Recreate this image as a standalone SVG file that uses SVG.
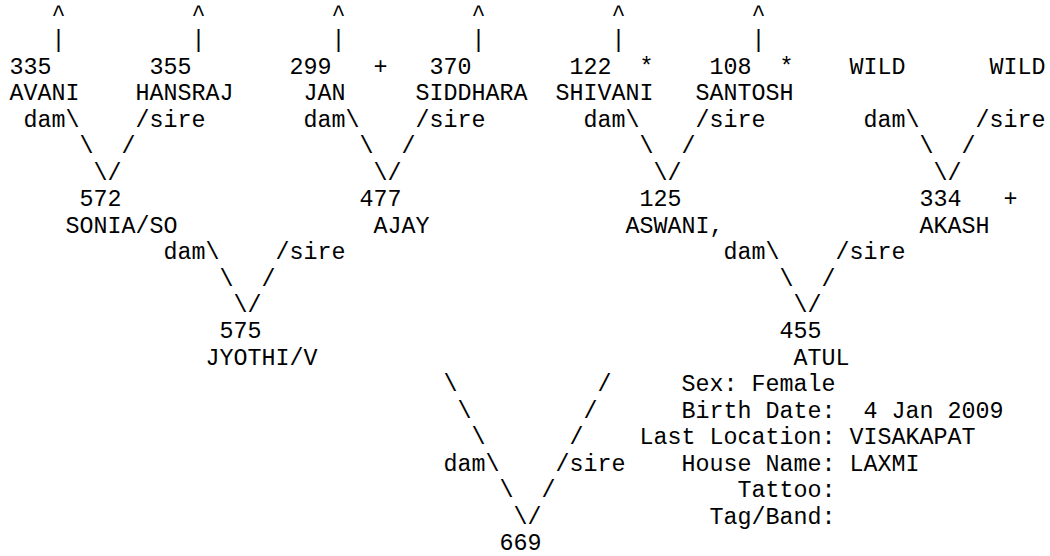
<svg xmlns="http://www.w3.org/2000/svg" width="1050" height="556" viewBox="0 0 1050 556">
<style>
text { font-family: "Liberation Mono", "Courier New", monospace; font-size: 23.333px; fill: #000; white-space: pre; }
</style>
<rect width="1050" height="556" fill="#fff"/>
<g id="connectors">
  <text x="51.5" y="21">^</text><text x="191.5" y="21">^</text><text x="331.5" y="21">^</text><text x="471.5" y="21">^</text><text x="611.5" y="21">^</text><text x="751.5" y="21">^</text>
  <text x="51.5" y="47.45">|</text><text x="191.5" y="47.45">|</text><text x="331.5" y="47.45">|</text><text x="471.5" y="47.45">|</text><text x="611.5" y="47.45">|</text><text x="751.5" y="47.45">|</text>
  <!-- first level -->
  <text x="23.5" y="126.8">dam\</text><text x="135.5" y="126.8">/sire</text>
  <text x="79.5" y="153.25">\</text><text x="121.5" y="153.25">/</text>
  <text x="93.5" y="179.7">\/</text>
  <text x="303.5" y="126.8">dam\</text><text x="415.5" y="126.8">/sire</text>
  <text x="359.5" y="153.25">\</text><text x="401.5" y="153.25">/</text>
  <text x="373.5" y="179.7">\/</text>
  <text x="583.5" y="126.8">dam\</text><text x="695.5" y="126.8">/sire</text>
  <text x="639.5" y="153.25">\</text><text x="681.5" y="153.25">/</text>
  <text x="653.5" y="179.7">\/</text>
  <text x="863.5" y="126.8">dam\</text><text x="975.5" y="126.8">/sire</text>
  <text x="919.5" y="153.25">\</text><text x="961.5" y="153.25">/</text>
  <text x="933.5" y="179.7">\/</text>
  <!-- second level -->
  <text x="163.5" y="259.05">dam\</text><text x="275.5" y="259.05">/sire</text>
  <text x="219.5" y="285.5">\</text><text x="261.5" y="285.5">/</text>
  <text x="233.5" y="311.95">\/</text>
  <text x="723.5" y="259.05">dam\</text><text x="835.5" y="259.05">/sire</text>
  <text x="779.5" y="285.5">\</text><text x="821.5" y="285.5">/</text>
  <text x="793.5" y="311.95">\/</text>
  <!-- bottom -->
  <text x="443.5" y="391.3">\</text><text x="597.5" y="391.3">/</text>
  <text x="457.5" y="417.75">\</text><text x="583.5" y="417.75">/</text>
  <text x="471.5" y="444.2">\</text><text x="569.5" y="444.2">/</text>
  <text x="443.5" y="470.65">dam\</text><text x="555.5" y="470.65">/sire</text>
  <text x="499.5" y="497.1">\</text><text x="541.5" y="497.1">/</text>
  <text x="513.5" y="523.55">\/</text>
</g>
<g id="n335"><text x="9.5" y="73.9">335</text><text x="9.5" y="100.35">AVANI</text></g>
<g id="n355"><text x="149.5" y="73.9">355</text><text x="135.5" y="100.35">HANSRAJ</text></g>
<g id="n299"><text x="289.5" y="73.9">299</text><text x="373.5" y="73.9">+</text><text x="303.5" y="100.35">JAN</text></g>
<g id="n370"><text x="429.5" y="73.9">370</text><text x="415.5" y="100.35">SIDDHARA</text></g>
<g id="n122"><text x="569.5" y="73.9">122</text><text x="639.5" y="73.9">*</text><text x="555.5" y="100.35">SHIVANI</text></g>
<g id="n108"><text x="709.5" y="73.9">108</text><text x="779.5" y="73.9">*</text><text x="695.5" y="100.35">SANTOSH</text></g>
<g id="wild-dam"><text x="849.5" y="73.9">WILD</text></g>
<g id="wild-sire"><text x="989.5" y="73.9">WILD</text></g>
<g id="n572"><text x="79.5" y="206.15">572</text><text x="65.5" y="232.6">SONIA/SO</text></g>
<g id="n477"><text x="359.5" y="206.15">477</text><text x="373.5" y="232.6">AJAY</text></g>
<g id="n125"><text x="639.5" y="206.15">125</text><text x="625.5" y="232.6">ASWANI,</text></g>
<g id="n334"><text x="919.5" y="206.15">334</text><text x="1003.5" y="206.15">+</text><text x="919.5" y="232.6">AKASH</text></g>
<g id="n575"><text x="219.5" y="338.4">575</text><text x="205.5" y="364.85">JYOTHI/V</text></g>
<g id="n455"><text x="779.5" y="338.4">455</text><text x="793.5" y="364.85">ATUL</text></g>
<g id="n669"><text x="499.5" y="550">669</text></g>
<g id="info">
  <text x="681.5" y="391.3">Sex: Female</text>
  <text x="681.5" y="417.75">Birth Date:  4 Jan 2009</text>
  <text x="639.5" y="444.2">Last Location: VISAKAPAT</text>
  <text x="681.5" y="470.65">House Name: LAXMI</text>
  <text x="737.5" y="497.1">Tattoo:</text>
  <text x="709.5" y="523.55">Tag/Band:</text>
</g>
</svg>
